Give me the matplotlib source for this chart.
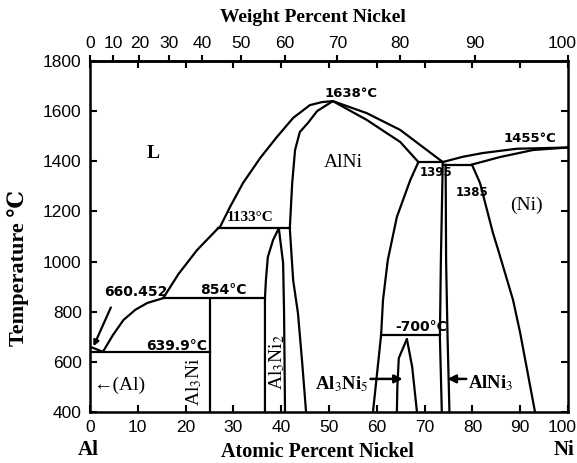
import numpy as np
import matplotlib.pyplot as plt
import matplotlib.transforms as mtrans

plt.rcParams['mathtext.fontset'] = 'stix'

# ---------------- phase boundaries (at.% Ni, deg C) -----------------
al_melt_x = [0.0, 2.7]
al_melt_t = [660.45, 640.0]

liq_low_x = [2.7, 4.8, 7.0, 9.5, 12.0, 15.3, 18.5, 22.4, 26.8]
liq_low_t = [640, 707, 767, 808, 835, 854, 950, 1046, 1133]

liq_top_x = [26.8, 27.2, 29.3, 32.0, 35.6, 39.1, 42.5, 46.0, 48.5, 50.8]
liq_top_t = [1133, 1138, 1218, 1313, 1413, 1497, 1573, 1624, 1636, 1640]

alni_left_x = [50.8, 47.5, 45.6, 43.9, 42.9, 42.3, 41.8, 42.5, 43.5, 44.4, 45.2]
alni_left_t = [1640, 1600, 1553, 1517, 1445, 1313, 1133, 926, 795, 595, 400]

al3ni2_left_x = [39.5, 38.3, 37.2, 36.8, 36.6, 36.6]
al3ni2_left_t = [1133, 1086, 1018, 926, 854, 400]
al3ni2_right_x = [39.5, 40.4, 40.6, 40.8]
al3ni2_right_t = [1133, 994, 795, 400]

al3ni_x = [25.0, 25.0]
al3ni_t = [400, 854]

liq_right_x = [50.8, 57.9, 64.9, 73.8]
liq_right_t = [1640, 1592, 1525, 1397]
sol_right_x = [50.8, 57.9, 64.9, 68.7]
sol_right_t = [1640, 1565, 1477, 1397]

alni_right_x = [68.7, 67.0, 64.2, 62.3, 61.3, 60.9, 59.2]
alni_right_t = [1397, 1325, 1178, 1006, 847, 707, 400]

alni3_left_x = [73.8, 73.4, 73.2, 73.6]
alni3_left_t = [1397, 1000, 700, 400]
alni3_right_x = [74.4, 74.5, 74.8, 75.2]
alni3_right_t = [1387, 1000, 700, 400]

ni_solvus_x = [79.9, 81.6, 84.3, 85.4, 88.5, 90.0, 93.1]
ni_solvus_t = [1387, 1313, 1114, 1046, 847, 715, 400]

ni_liq_x = [73.8, 78.0, 82.2, 89.3, 100.0]
ni_liq_t = [1397, 1418, 1433, 1450, 1455]
ni_sol_x = [79.9, 85.8, 92.7, 100.0]
ni_sol_t = [1387, 1417, 1445, 1455]

al3ni5_left_x = [66.3, 64.6, 64.3, 64.2]
al3ni5_left_t = [691, 615, 500, 400]
al3ni5_right_x = [66.3, 67.4, 68.4]
al3ni5_right_t = [691, 580, 400]

# isotherms: (x_start, x_end, T)
iso_640 = (0.0, 25.0, 640)
iso_854 = (15.3, 36.6, 854)
iso_1133 = (26.8, 41.8, 1133)
iso_1395 = (68.7, 73.8, 1397)
iso_1385 = (73.8, 79.9, 1387)
iso_700 = (60.9, 73.2, 707)

# atomic ticks and weight-percent ticks
at_ticks = np.arange(0, 101, 10)
wt_ticks = np.arange(0, 101, 10)
t_ticks = np.arange(400, 1801, 200)

M_NI = 58.69
M_AL = 26.98


def at2wt(a):
    a = np.asarray(a, dtype=float)
    return 100.0 * a * M_NI / (a * M_NI + (100.0 - a) * M_AL)


def wt2at(w):
    w = np.asarray(w, dtype=float)
    return 100.0 * (w / M_NI) / (w / M_NI + (100.0 - w) / M_AL)


#=================================================================
fig = plt.figure(figsize=(5.77, 4.63), dpi=100)
ax = fig.add_axes([90/577, 51/463, 478/577, 351/463])
lw = 1.6
k = 'black'

curves = [(al_melt_x, al_melt_t), (liq_low_x, liq_low_t), (liq_top_x, liq_top_t),
          (alni_left_x, alni_left_t), (al3ni2_left_x, al3ni2_left_t),
          (al3ni2_right_x, al3ni2_right_t), (al3ni_x, al3ni_t),
          (liq_right_x, liq_right_t), (sol_right_x, sol_right_t),
          (alni_right_x, alni_right_t), (alni3_left_x, alni3_left_t),
          (alni3_right_x, alni3_right_t), (ni_solvus_x, ni_solvus_t),
          (ni_liq_x, ni_liq_t), (ni_sol_x, ni_sol_t),
          (al3ni5_left_x, al3ni5_left_t), (al3ni5_right_x, al3ni5_right_t)]
for cx, ct in curves:
    ax.plot(cx, ct, color=k, lw=lw, solid_capstyle='round', solid_joinstyle='round')

for x0, x1, t in [iso_640, iso_854, iso_1133, iso_1395, iso_1385, iso_700]:
    ax.plot([x0, x1], [t, t], color=k, lw=lw)

ax.set_xlim(0, 100)
ax.set_ylim(400, 1800)
for s in ax.spines.values():
    s.set_linewidth(1.8)

ax.set_xticks(at_ticks)
ax.set_yticks(t_ticks)
ax.tick_params(axis='both', direction='in', length=5, width=1.5,
               labelsize=12.5, pad=6, top=True, right=True)
for lab in ax.get_xticklabels() + ax.get_yticklabels():
    lab.set_family('Liberation Sans')

sec = ax.secondary_xaxis('top', functions=(at2wt, wt2at))
sec.set_xticks(wt_ticks)
sec.tick_params(direction='out', length=4, width=1.5, labelsize=12.5, pad=3)
for lab in sec.get_xticklabels():
    lab.set_family('Liberation Sans')
sec.spines['top'].set_linewidth(1.8)

# nudge the "100" labels left so they stay inside the figure
shift = mtrans.ScaledTranslation(-6/100, 0, fig.dpi_scale_trans)
for lab in [ax.get_xticklabels()[-1], sec.get_xticklabels()[-1]]:
    lab.set_transform(lab.get_transform() + shift)

# ---------------- annotations -----------------
lett = dict(family='DejaVu Sans', fontweight='bold', color=k, ha='center', va='center')
ax.text(54.7, 1672, '1638°C', fontsize=9.5, **lett)
ax.text(27.8, 887, '854°C', fontsize=10, **lett)
ax.text(9.6, 879, '660.452', fontsize=10, **lett)
ax.text(18.1, 665, '639.9°C', fontsize=10, **lett)
ax.text(69.3, 739, '-700°C', fontsize=10, **lett)
ax.text(72.4, 1357, '1395', fontsize=8.5, **lett)
ax.text(80.0, 1277, '1385', fontsize=8.5, **lett)
ax.text(92.0, 1489, '1455°C', fontsize=9.5, **lett)
ax.text(33.6, 1174, '1133°C', fontsize=11, family='Liberation Serif',
        fontweight='bold', ha='center', va='center')

ax.annotate('', xy=(0.5, 652), xytext=(4.6, 827),
            arrowprops=dict(arrowstyle='-|>', color=k, lw=1.6, mutation_scale=8))

serif = dict(family=['Liberation Serif', 'DejaVu Serif'], color=k, va='center')
ax.text(13.2, 1433, 'L', fontsize=14, fontweight='bold', ha='center', **serif)
ax.text(52.9, 1397, 'AlNi', fontsize=14, ha='center', **serif)
ax.text(91.4, 1226, '(Ni)', fontsize=14, ha='center', **serif)
ax.text(0.6, 508, '←(Al)', fontsize=14, ha='left', **serif)
ax.text(21.8, 520, 'Al$_3$Ni', fontsize=14, rotation=90, ha='center', **serif)
ax.text(39.1, 600, 'Al$_3$Ni$_2$', fontsize=14, rotation=90, ha='center', **serif)
ax.text(58.2, 512, 'Al$_3$Ni$_5$', fontsize=13.5, fontweight='bold', ha='right', **serif)
ax.text(79.1, 516, 'AlNi$_3$', fontsize=13.5, fontweight='bold', ha='left', **serif)

ax.annotate('', xy=(66.0, 532), xytext=(58.1, 532),
            arrowprops=dict(arrowstyle='-|>', color=k, lw=1.8, mutation_scale=12))
ax.annotate('', xy=(74.2, 532), xytext=(79.3, 532),
            arrowprops=dict(arrowstyle='-|>', color=k, lw=1.8, mutation_scale=12))

# ---------------- axis titles -----------------
title = dict(family='Liberation Serif', fontweight='bold', ha='center', va='center')
fig.text(313/577, 1 - 18/463, 'Weight Percent Nickel', fontsize=14, **title)
fig.text(317/577, 1 - 452/463, 'Atomic Percent Nickel', fontsize=14.5, **title)
fig.text(88/577, 1 - 450/463, 'Al', fontsize=15, **title)
fig.text(564/577, 1 - 450/463, 'Ni', fontsize=15, **title)
fig.text(18/577, 1 - 268/463, 'Temperature ℃', fontsize=16, rotation=90,
         family=['Liberation Serif', 'DejaVu Serif'], fontweight='bold',
         ha='center', va='center')

fig.savefig('out.png', dpi=100)
